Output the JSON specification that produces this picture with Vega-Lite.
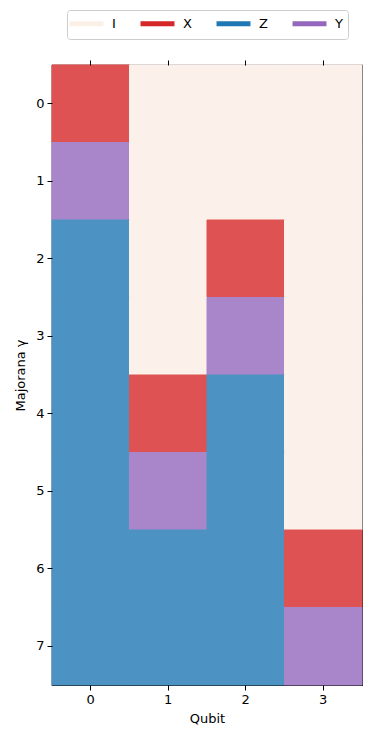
{
  "$schema": "https://vega.github.io/schema/vega-lite/v6.json",
  "autosize": "none",
  "width": 310,
  "height": 620,
  "padding": {"left": 52, "top": 65, "right": 10, "bottom": 53},
  "background": "white",
  "config": {
    "font": "DejaVu Sans",
    "view": {"stroke": "black", "strokeWidth": 1.2},
    "axis": {"labelFont": "DejaVu Sans", "titleFont": "DejaVu Sans", "labelFontSize": 13, "titleFontSize": 13, "titleFontWeight": "normal", "labelColor": "black", "titleColor": "black", "tickColor": "black", "domain": false, "grid": false, "tickSize": 5, "labelPadding": 3}
  },
  "data": {"values": [
    {"m": 0, "q": 0, "op": "X"}, {"m": 0, "q": 1, "op": "I"}, {"m": 0, "q": 2, "op": "I"}, {"m": 0, "q": 3, "op": "I"},
    {"m": 1, "q": 0, "op": "Y"}, {"m": 1, "q": 1, "op": "I"}, {"m": 1, "q": 2, "op": "I"}, {"m": 1, "q": 3, "op": "I"},
    {"m": 2, "q": 0, "op": "Z"}, {"m": 2, "q": 1, "op": "I"}, {"m": 2, "q": 2, "op": "X"}, {"m": 2, "q": 3, "op": "I"},
    {"m": 3, "q": 0, "op": "Z"}, {"m": 3, "q": 1, "op": "I"}, {"m": 3, "q": 2, "op": "Y"}, {"m": 3, "q": 3, "op": "I"},
    {"m": 4, "q": 0, "op": "Z"}, {"m": 4, "q": 1, "op": "X"}, {"m": 4, "q": 2, "op": "Z"}, {"m": 4, "q": 3, "op": "I"},
    {"m": 5, "q": 0, "op": "Z"}, {"m": 5, "q": 1, "op": "Y"}, {"m": 5, "q": 2, "op": "Z"}, {"m": 5, "q": 3, "op": "I"},
    {"m": 6, "q": 0, "op": "Z"}, {"m": 6, "q": 1, "op": "Z"}, {"m": 6, "q": 2, "op": "Z"}, {"m": 6, "q": 3, "op": "X"},
    {"m": 7, "q": 0, "op": "Z"}, {"m": 7, "q": 1, "op": "Z"}, {"m": 7, "q": 2, "op": "Z"}, {"m": 7, "q": 3, "op": "Y"}
  ]},
  "layer": [
    {
      "mark": {"type": "rect", "strokeWidth": 1, "opacity": 1},
      "encoding": {
        "x": {"field": "q", "type": "ordinal", "scale": {"paddingInner": 0, "paddingOuter": 0}, "axis": {"title": "Qubit", "labelAngle": 0, "titlePadding": 6}},
        "y": {"field": "m", "type": "ordinal", "scale": {"paddingInner": 0, "paddingOuter": 0}, "axis": {"title": "Majorana γ", "titlePadding": 8}},
        "stroke": {"field": "op", "type": "nominal", "scale": {"domain": ["I", "X", "Z", "Y"], "range": ["#fbf1ea", "#de5253", "#4c92c3", "#a985ca"]}, "legend": null},
        "fill": {"field": "op", "type": "nominal", "scale": {"domain": ["I", "X", "Z", "Y"], "range": ["#fbf1ea", "#de5253", "#4c92c3", "#a985ca"]}, "legend": null}
      }
    },
    {
      "mark": {"type": "rect", "opacity": 0},
      "encoding": {
        "x": {"field": "q", "type": "ordinal", "axis": {"orient": "top", "labels": false, "title": null}},
        "y": {"field": "m", "type": "ordinal"}
      }
    },
    {
      "mark": {"type": "line", "opacity": 0},
      "encoding": {
        "x": {"field": "q", "type": "ordinal", "axis": null},
        "y": {"field": "m", "type": "ordinal"},
        "color": {
          "field": "op", "type": "nominal",
          "scale": {"domain": ["I", "X", "Z", "Y"], "range": ["#faf0e6", "#d62728", "#1f77b4", "#9467bd"]},
          "legend": {
            "title": null, "orient": "none", "legendX": 15, "legendY": -55, "direction": "horizontal", "columns": 4,
            "symbolType": "M-3,0H3", "symbolSize": 128, "symbolStrokeWidth": 5, "symbolOpacity": 1, "symbolOffset": 6,
            "labelFont": "DejaVu Sans", "labelFontSize": 13, "labelColor": "black", "labelOffset": 17,
            "columnPadding": 14, "strokeColor": "#cccccc", "cornerRadius": 3, "padding": 5, "fillColor": "white"
          }
        }
      }
    }
  ],
  "resolve": {"axis": {"x": "independent"}, "scale": {"color": "independent", "fill": "independent", "stroke": "independent"}}
}
